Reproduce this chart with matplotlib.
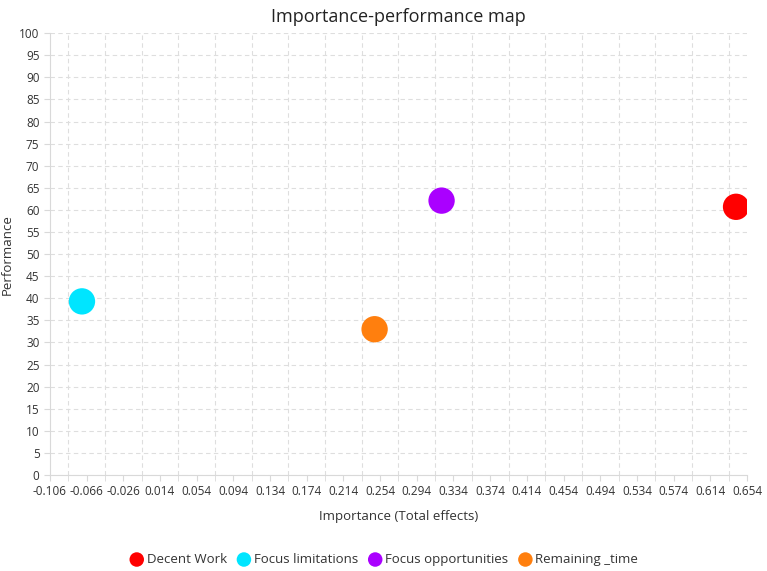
import numpy as np
import matplotlib.pyplot as plt
from matplotlib.ticker import MultipleLocator, FixedLocator

plt.rcParams['font.family'] = ['Open Sans', 'DejaVu Sans']

# constructs and their IPMA values
names = ['Decent Work', 'Focus limitations', 'Focus opportunities', 'Remaining _time']
importance = [0.642, -0.071, 0.321, 0.248]
performance = [60.7, 39.3, 62.1, 33.0]
colors = ['#ff0000', '#00e5ff', '#aa00ff', '#ff7f0e']

x_min, x_max, x_step = -0.106, 0.654, 0.04
x_ticks = np.round(np.arange(x_min, x_max + 0.001, x_step), 3)
x_minor = np.round(np.arange(x_min, x_max + 0.001, x_step / 2), 3)

fig = plt.figure(figsize=(7.67, 5.71), dpi=100, facecolor='w')
ax = fig.add_axes([0.065, 0.168, 0.909, 0.774])

for n, xi, yi, c in zip(names, importance, performance, colors):
    ax.scatter(xi, yi, s=360, color=c, label=n, zorder=3, edgecolors='none')

ax.set_xlim(x_min, x_max)
ax.set_ylim(0, 100)
ax.xaxis.set_major_locator(FixedLocator(x_ticks))
ax.xaxis.set_minor_locator(FixedLocator(x_minor))
ax.set_xticklabels(['%.3f' % v for v in x_ticks])
ax.yaxis.set_major_locator(MultipleLocator(5))

ax.grid(which='minor', axis='x', color='#dedede', ls=(0, (4, 3)), lw=0.8)
ax.grid(which='major', axis='y', color='#dedede', ls=(0, (4, 3)), lw=0.8)
ax.set_axisbelow(True)

for s in ('top', 'right'):
    ax.spines[s].set_visible(False)
for s in ('left', 'bottom'):
    ax.spines[s].set_color('#d9d9d9')
ax.tick_params(which='both', colors='#d9d9d9', labelcolor='#333333', labelsize=8.5, length=4)
ax.tick_params(axis='x', which='minor', length=4)

ax.set_title('Importance-performance map', fontsize=13, color='#222222', pad=8)
ax.set_xlabel('Importance (Total effects)', fontsize=9.5, color='#333333', labelpad=8)
ax.set_ylabel('Performance', fontsize=9.5, color='#333333', labelpad=4)

fig.legend(loc='lower center', bbox_to_anchor=(0.5, -0.012), ncol=4, frameon=False,
           fontsize=9.5, handletextpad=0.15, columnspacing=0.7, markerscale=0.55,
           handlelength=1.2, labelcolor='#333333')

fig.savefig('out.png', dpi=100)
